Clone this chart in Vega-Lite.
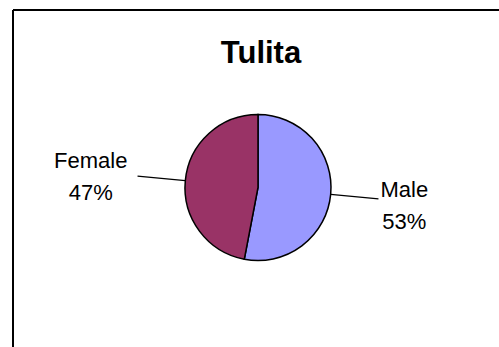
{
  "$schema": "https://vega.github.io/schema/vega-lite/v6.json",
  "width": 486,
  "height": 337,
  "autosize": {"type": "none"},
  "padding": {"left": 13, "top": 10, "right": 0, "bottom": 0},
  "background": "white",
  "view": {"stroke": "black", "strokeWidth": 2, "strokeDash": [486, 823, 337, 0], "fill": "white"},
  "title": {
    "text": "Tulita",
    "font": "Liberation Sans",
    "fontSize": 31,
    "fontWeight": "bold",
    "color": "black",
    "anchor": "middle",
    "orient": "top",
    "offset": -84,
    "baseline": "alphabetic",
    "dx": 5
  },
  "data": {"values": [{"sex": "Male", "pct": 53}, {"sex": "Female", "pct": 47}]},
  "encoding": {
    "theta": {"field": "pct", "type": "quantitative", "stack": true},
    "order": {"field": "pct", "sort": "descending"},
    "color": {
      "field": "sex",
      "type": "nominal",
      "scale": {"domain": ["Male", "Female"], "range": ["#9999FF", "#993366"]},
      "legend": null
    }
  },
  "layer": [
    {
      "mark": {"type": "arc", "outerRadius": 73, "stroke": "black", "strokeWidth": 1.5, "xOffset": 2, "yOffset": 9}
    },
    {
      "transform": [
        {"stack": "pct", "groupby": [], "sort": [{"field": "pct", "order": "descending"}], "as": ["s0", "s1"]},
        {"calculate": "(datum.s0 + datum.s1) / 2", "as": "mid"}
      ],
      "mark": {"type": "arc", "innerRadius": 73, "outerRadius": 121, "stroke": "black", "strokeWidth": 1.3, "xOffset": 2, "yOffset": 9},
      "encoding": {
        "theta": {"field": "mid", "type": "quantitative", "stack": null},
        "theta2": {"field": "mid"}
      }
    },
    {
      "transform": [{"calculate": "datum.sex + '\\n' + datum.pct + '%'", "as": "label"}],
      "mark": {
        "type": "text",
        "radius": {"expr": "datum.sex === 'Male' ? 147 : 168"},
        "lineBreak": "\n",
        "lineHeight": 32,
        "fontSize": 22,
        "font": "Liberation Sans",
        "xOffset": 2,
        "yOffset": 9,
        "dy": -11
      },
      "encoding": {"text": {"field": "label"}, "color": {"value": "black"}}
    }
  ]
}
